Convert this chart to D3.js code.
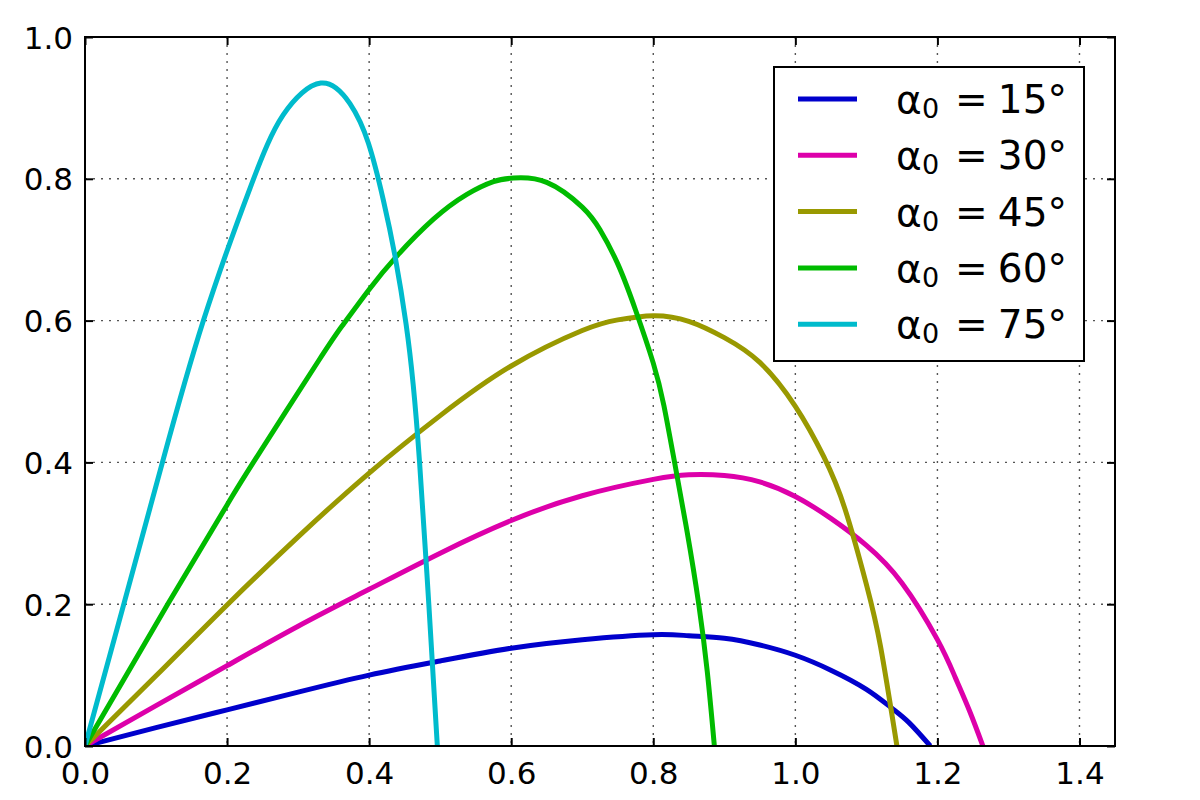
<!DOCTYPE html>
<html>
<head>
<meta charset="utf-8">
<script src="https://cdn.jsdelivr.net/npm/d3@7"></script>
<style>
body{margin:0;background:#fff;}
</style>
</head>
<body>
<svg id="chart" width="1200" height="800" font-family="DejaVu Sans"></svg>
<script>
// ---- data ----
const angles = [15, 30, 45, 60, 75];
const colors = ["#0000cc", "#dd00aa", "#999900", "#00bb00", "#00bbcc"];

const x15 = [0, 0.1, 0.2, 0.3, 0.4, 0.5, 0.6, 0.7, 0.8, 0.85, 0.9, 0.95, 1.0, 1.05, 1.1, 1.135, 1.16, 1.19];
const y15 = [0, 0.026, 0.051, 0.076, 0.100, 0.120, 0.138, 0.150, 0.157, 0.1555, 0.152, 0.1425, 0.128, 0.107, 0.080, 0.054, 0.033, 0];

const x30 = [0, 0.1, 0.2, 0.3, 0.4, 0.5, 0.6, 0.7, 0.8, 0.85, 0.9, 0.95, 1.0, 1.05, 1.1, 1.15, 1.2, 1.225, 1.245, 1.264];
const y30 = [0, 0.057, 0.1133, 0.169, 0.221, 0.272, 0.318, 0.353, 0.376, 0.3825, 0.3815, 0.3725, 0.352, 0.321, 0.283, 0.230, 0.150, 0.097, 0.050, 0];

const x45 = [0, 0.1, 0.2, 0.3, 0.4, 0.5, 0.6, 0.7, 0.75, 0.8, 0.85, 0.9, 0.95, 1.0, 1.04, 1.07, 1.1, 1.12, 1.143];
const y45 = [0, 0.099, 0.199, 0.295, 0.385, 0.466, 0.536, 0.586, 0.601, 0.607, 0.599, 0.576, 0.541, 0.479, 0.408, 0.334, 0.228, 0.14, 0];

const x60 = [0, 0.1164, 0.2, 0.237, 0.3286, 0.3638, 0.4, 0.439, 0.4906, 0.5376, 0.575, 0.6033, 0.65, 0.7, 0.725, 0.75, 0.775, 0.80, 0.815, 0.83, 0.848, 0.864, 0.876, 0.886];
const y60 = [0, 0.2, 0.340, 0.400, 0.543, 0.595, 0.644, 0.691, 0.743, 0.778, 0.796, 0.801, 0.795, 0.760, 0.728, 0.680, 0.615, 0.54, 0.48, 0.4, 0.3, 0.2, 0.105, 0];

const x75 = [0, 0.0554, 0.109, 0.1667, 0.2324, 0.279, 0.332, 0.373, 0.399, 0.420, 0.4366, 0.452, 0.462, 0.471, 0.484, 0.496];
const y75 = [0, 0.203, 0.4, 0.6, 0.787, 0.890, 0.935, 0.906, 0.850, 0.770, 0.690, 0.595, 0.51, 0.40, 0.2, 0];

const xTicks = [0, 0.2, 0.4, 0.6, 0.8, 1.0, 1.2, 1.4];
const yTicks = [0, 0.2, 0.4, 0.6, 0.8, 1.0];
const xTickLabels = ["0.0", "0.2", "0.4", "0.6", "0.8", "1.0", "1.2", "1.4"];
const yTickLabels = ["0.0", "0.2", "0.4", "0.6", "0.8", "1.0"];

const seriesX = [x15, x30, x45, x60, x75];
const seriesY = [y15, y30, y45, y60, y75];

// ---- layout ----
const L = 85, R = 1115, T = 37, B = 746;
const svg = d3.select("#chart");
const x = d3.scaleLinear().domain([0, 1.45]).range([L, R]);
const y = d3.scaleLinear().domain([0, 1]).range([B, T]);

// grid
const grid = svg.append("g");
grid.selectAll(".gx").data(xTicks.filter(v => v > 0 && v < 1.45)).enter().append("line")
  .attr("x1", d => x(d)).attr("x2", d => x(d)).attr("y1", T).attr("y2", B)
  .attr("stroke", "#555").attr("stroke-width", 1.4).attr("stroke-dasharray", "2,6");
grid.selectAll(".gy").data(yTicks.filter(v => v > 0 && v < 1)).enter().append("line")
  .attr("x1", L).attr("x2", R).attr("y1", d => y(d)).attr("y2", d => y(d))
  .attr("stroke", "#555").attr("stroke-width", 1.4).attr("stroke-dasharray", "2,6");

// curves
const line = d3.line().x(d => x(d[0])).y(d => y(d[1])).curve(d3.curveNatural);
svg.append("clipPath").attr("id", "clip").append("rect")
  .attr("x", L).attr("y", T).attr("width", R - L).attr("height", B - T);
seriesX.forEach((xs, i) => {
  const pts = xs.map((v, j) => [v, seriesY[i][j]]);
  svg.append("path").attr("d", line(pts)).attr("fill", "none")
    .attr("stroke", colors[i]).attr("stroke-width", 5).attr("stroke-linejoin", "round")
    .attr("clip-path", "url(#clip)");
});

// axes (ticks inside, on all sides)
const fs = 31;
const axB = svg.append("g").attr("transform", `translate(0,${B})`)
  .call(d3.axisBottom(x).tickValues(xTicks).tickFormat((d, i) => xTickLabels[i]).tickSizeInner(-8).tickSizeOuter(0).tickPadding(14));
const axT = svg.append("g").attr("transform", `translate(0,${T})`)
  .call(d3.axisTop(x).tickValues(xTicks).tickFormat("").tickSizeInner(-8).tickSizeOuter(0));
const axL = svg.append("g").attr("transform", `translate(${L},0)`)
  .call(d3.axisLeft(y).tickValues(yTicks).tickFormat((d, i) => yTickLabels[i]).tickSizeInner(-8).tickSizeOuter(0).tickPadding(12));
const axR = svg.append("g").attr("transform", `translate(${R},0)`)
  .call(d3.axisRight(y).tickValues(yTicks).tickFormat("").tickSizeInner(-8).tickSizeOuter(0));
[axB, axT, axL, axR].forEach(a => {
  a.attr("font-family", "DejaVu Sans").attr("font-size", fs);
  a.select(".domain").remove();
  a.selectAll(".tick line").attr("stroke", "#000").attr("stroke-width", 2);
  a.selectAll("text").attr("fill", "#000");
});
axB.selectAll("text").attr("dy", "0.71em").attr("y", 16);
axL.selectAll("text").attr("x", -12).attr("dy", "0.36em");

// frame
svg.append("rect").attr("x", L).attr("y", T).attr("width", R - L).attr("height", B - T)
  .attr("fill", "none").attr("stroke", "#000").attr("stroke-width", 2);

// legend
const lg = svg.append("g");
lg.append("rect").attr("x", 774).attr("y", 67).attr("width", 310).attr("height", 294)
  .attr("fill", "#fff").attr("stroke", "#000").attr("stroke-width", 2);
angles.forEach((a, i) => {
  const yy = 99 + i * 56.3;
  lg.append("line").attr("x1", 798).attr("x2", 857).attr("y1", yy).attr("y2", yy)
    .attr("stroke", colors[i]).attr("stroke-width", 5);
  const by = yy + 14;
  lg.append("text").attr("x", 896).attr("y", by).attr("font-size", 39).attr("fill", "#000").text("α");
  lg.append("text").attr("x", 922).attr("y", by + 5).attr("font-size", 27).attr("fill", "#000").text("0");
  lg.append("text").attr("x", 955).attr("y", by).attr("font-size", 39).attr("fill", "#000").text("=");
  lg.append("text").attr("x", 1067).attr("y", by).attr("font-size", 39).attr("fill", "#000")
    .attr("text-anchor", "end").text(a + "°");
});
</script>
</body>
</html>
